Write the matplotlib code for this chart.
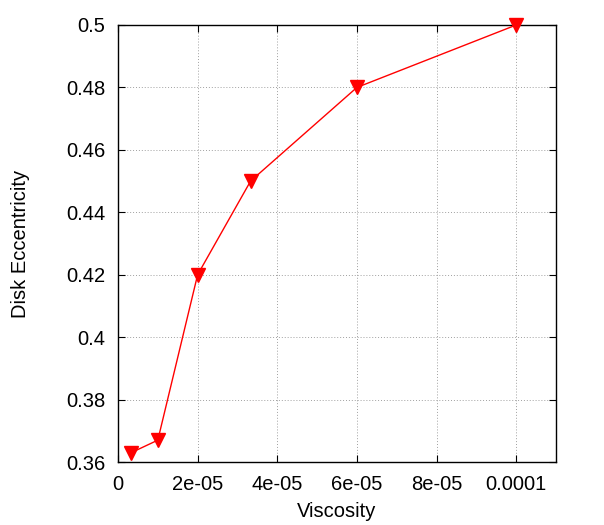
import numpy as np
import matplotlib
matplotlib.use("Agg")
import matplotlib.pyplot as plt

viscosity = [3.33e-6, 1e-5, 2e-5, 3.33e-5, 6e-5, 1e-4]
eccentricity = [0.363, 0.367, 0.42, 0.45, 0.48, 0.5]
xticks = [0, 2e-5, 4e-5, 6e-5, 8e-5, 1e-4]
xticklabels = ["0", "2e-05", "4e-05", "6e-05", "8e-05", "0.0001"]
yticks = [0.36, 0.38, 0.4, 0.42, 0.44, 0.46, 0.48, 0.5]
yticklabels = ["0.36", "0.38", "0.4", "0.42", "0.44", "0.46", "0.48", "0.5"]

plt.rcParams["font.family"] = ["Liberation Sans", "DejaVu Sans"]
fig = plt.figure(figsize=(6.04, 5.25), dpi=100)
ax = fig.add_axes([118/604, 1-462/525, (556-118)/604, (462-25)/525])

ax.plot(viscosity, eccentricity, color="red", lw=1, marker="v", ms=10,
        clip_on=False, zorder=3)

ax.set_xlim(0, 1.1e-4)
ax.set_ylim(0.36, 0.5)
ax.set_xticks(xticks)
ax.set_xticklabels(xticklabels)
ax.set_yticks(yticks)
ax.set_yticklabels(yticklabels)
ax.tick_params(direction="in", top=True, right=True, labelsize=14.5, length=5, pad=9)
ax.grid(True, color="#a0a0a0", ls=(0, (1, 2)), lw=0.7)
for s in ax.spines.values():
    s.set_linewidth(1)
ax.set_xlabel("Viscosity", fontsize=14.5, labelpad=6)
ax.set_ylabel("Disk Eccentricity", fontsize=14.5, labelpad=26)

fig.savefig("out.png", dpi=100)
